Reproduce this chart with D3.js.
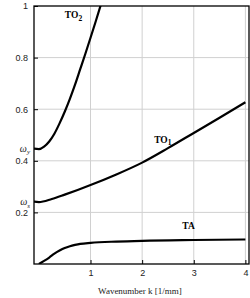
<!DOCTYPE html>
<html>
<head>
<meta charset="utf-8">
<script src="https://cdn.jsdelivr.net/npm/d3@7"></script>
<style>
  body { margin: 0; background: #fff; }
  svg { display: block; font-family: "Liberation Serif", "DejaVu Serif", serif; }
  .grid line { stroke: #d0d0d0; stroke-width: 1; }
  .curve { fill: none; stroke: #000; stroke-width: 2.2; }
  .tick text { font-size: 9px; fill: #222; }
</style>
</head>
<body>
<script>
// wavenumber samples and branch frequencies
var kTO2 = [-0.1, 0, 0.1, 0.2, 0.3, 0.4, 0.5, 0.6, 0.7, 0.8, 0.9, 1.0, 1.1, 1.2];
var wTO2 = [0.447, 0.445, 0.455, 0.475, 0.505, 0.545, 0.59, 0.64, 0.695, 0.755, 0.815, 0.877, 0.94, 1.005];
var kTO1 = [-0.1, 0, 0.25, 0.5, 0.75, 1, 1.5, 2, 2.5, 3, 3.5, 4];
var wTO1 = [0.242, 0.24, 0.252, 0.269, 0.287, 0.306, 0.347, 0.393, 0.449, 0.508, 0.567, 0.627];
var kTA = [0, 0.1, 0.2, 0.3, 0.4, 0.5, 0.6, 0.7, 0.8, 1.0, 1.5, 2, 3, 4];
var wTA = [0, 0.012, 0.025, 0.04, 0.052, 0.062, 0.069, 0.074, 0.078, 0.082, 0.087, 0.09, 0.093, 0.095];

var xTicks = [1, 2, 3, 4];
var yTicks = [0.2, 0.4, 0.6, 0.8, 1];
var omegaY = 0.446, omegaS = 0.24;

var margin = { top: 6, right: 1, bottom: 34, left: 34 },
    outerWidth = 250,
    outerHeight = 298,
    width = outerWidth - margin.left - margin.right,
    height = outerHeight - margin.top - margin.bottom;

var svg = d3.select("body").append("svg").attr("width", outerWidth).attr("height", outerHeight);
var g = svg.append("g").attr("transform", "translate(" + margin.left + "," + margin.top + ")");

var x = d3.scaleLinear().domain([-0.095, 4.07]).range([0, width]);
var y = d3.scaleLinear().domain([0, 1]).range([height, 0]);

g.append("clipPath").attr("id", "clip").append("rect").attr("width", width).attr("height", height);

// grid
var grid = g.append("g").attr("class", "grid");
grid.selectAll(".gx").data(xTicks).enter().append("line")
  .attr("x1", d => x(d)).attr("x2", d => x(d)).attr("y1", 0).attr("y2", height);
grid.selectAll(".gy").data(yTicks.slice(0, 4)).enter().append("line")
  .attr("y1", d => y(d)).attr("y2", d => y(d)).attr("x1", 0).attr("x2", width);

// axes
var xAxis = d3.axisBottom(x).tickValues(xTicks).tickSize(-4).tickPadding(6).tickFormat(d3.format("d"));
g.append("g").attr("transform", "translate(0," + height + ")").call(xAxis)
  .call(a => a.select(".domain").remove());

var yAxis = d3.axisLeft(y).tickValues(yTicks).tickSize(-4).tickPadding(6).tickFormat(d => d == 1 ? "1" : d3.format(".1f")(d));
g.append("g").call(yAxis).call(a => a.select(".domain").remove());

// omega labels
[[omegaY, "y"], [omegaS, "s"]].forEach(function (o) {
  var t = g.append("text").attr("x", -4).attr("y", y(o[0]) + 3).attr("text-anchor", "end")
    .style("font-size", "10px").style("font-style", "italic").style("fill", "#222");
  t.append("tspan").text("\u03c9");
  t.append("tspan").attr("dy", 2.5).style("font-size", "7px").text(o[1]);
});

// frame
g.append("rect").attr("width", width).attr("height", height)
  .attr("fill", "none").attr("stroke", "#000").attr("stroke-width", 1.3);

var line = d3.line().x(d => x(d[0])).y(d => y(d[1])).curve(d3.curveMonotoneX);
var curves = g.append("g").attr("clip-path", "url(#clip)");
[[kTO2, wTO2], [kTO1, wTO1], [kTA, wTA]].forEach(function (s) {
  curves.append("path").attr("class", "curve").attr("d", line(d3.zip(s[0], s[1])));
});

// branch labels
function branch(lbl, sub, kx, wy) {
  var t = g.append("text").attr("x", x(kx)).attr("y", y(wy)).attr("text-anchor", "middle")
    .style("font-size", "9.5px").style("font-weight", "bold");
  t.append("tspan").text(lbl);
  if (sub) t.append("tspan").attr("dy", 2.5).style("font-size", "7.5px").text(sub);
}
branch("TO", "2", 0.67, 0.952);
branch("TO", "1", 2.4, 0.47);
branch("TA", "", 2.9, 0.135);

svg.append("text").attr("x", 140).attr("y", 294).attr("text-anchor", "middle")
  .style("font-size", "9px").style("fill", "#222").text("Wavenumber k [1/mm]");
</script>
</body>
</html>
